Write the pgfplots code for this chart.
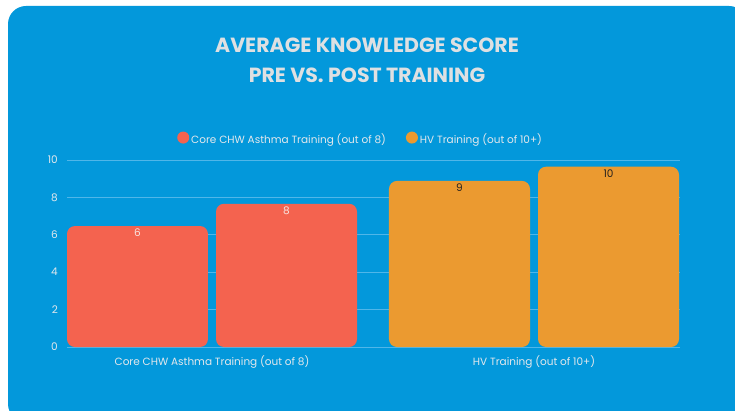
\documentclass[border=0pt]{standalone}
\usepackage{pgfplots}
\pgfplotsset{compat=1.18}
\usepackage{fontspec}
\setmainfont{Poppins}
\definecolor{bgblue}{RGB}{3,152,219}
\definecolor{corered}{RGB}{244,99,79}
\definecolor{hvorange}{RGB}{235,154,48}
\definecolor{labelgray}{RGB}{228,232,236}
\definecolor{titlegray}{RGB}{222,224,226}
\definecolor{gridblue}{RGB}{80,182,233}
\definecolor{darktext}{RGB}{40,34,30}
\definecolor{lighttext}{RGB}{248,228,224}
\begin{document}
\begin{tikzpicture}
\useasboundingbox (0pt,0pt) rectangle (735pt,410pt);
\begin{scope}
\clip (0pt,0pt) rectangle (735pt,410pt);
\fill[bgblue, rounded corners=18pt] (8pt,-12pt) rectangle (747pt,404pt);
\end{scope}
\node[text=titlegray, font=\fontsize{20.5}{24}\selectfont\bfseries] at (367pt,365pt) {AVERAGE KNOWLEDGE SCORE};
\node[text=titlegray, font=\fontsize{20.5}{24}\selectfont\bfseries] at (367pt,335pt) {PRE VS. POST TRAINING};
\begin{axis}[
  at={(67pt,63pt)}, anchor=south west,
  scale only axis, width=613pt, height=187pt,
  xmin=-0.4503, xmax=1.4534, ymin=0, ymax=10,
  y coord trafo/.code={\pgfmathparse{#1+1}},
  y coord inv trafo/.code={\pgfmathparse{#1-1}},
  ybar, bar width=0.4379, bar shift=0pt,
  axis x line*=bottom, axis y line*=left,
  axis line style={draw=none},
  major tick length=0pt,
  ymajorgrids, grid style={gridblue, line width=0.9pt},
  ytick={0,2,4,6,8,10}, yticklabels={0,2,4,6,8,10},
  xtick={0,1},
  xticklabels={Core CHW Asthma Training (out of 8), HV Training (out of 10+)},
  tick label style={text=labelgray, font=\fontsize{10.5}{12}\selectfont},
  yticklabel style={anchor=east, inner sep=0pt, xshift=-9pt},
  xticklabel style={anchor=north, inner sep=0pt, yshift=-8pt},
  /pgf/number format/assume math mode=true,
  legend style={at={(0.479,1.112)}, anchor=center, draw=none, fill=none,
    text=labelgray, font=\fontsize{10.5}{12}\selectfont, legend columns=2,
    /tikz/every even column/.append style={column sep=18pt}},
  point meta=rawy,
  nodes near coords={\pgfmathprintnumber[fixed,precision=0]{\pgfplotspointmeta}},
  nodes near coords style={anchor=center, yshift=-7pt, inner sep=0pt, font=\fontsize{10.5}{12}\selectfont},
]
\addplot[fill=corered, draw=none, rounded corners=8pt, bar shift=0pt,
  every node near coord/.append style={text=lighttext},
  legend image code/.code={\fill[corered] (-3pt,0.15em) circle (6pt);}]
  coordinates {(-0.2314,6.47) (0.2314,7.66)};
\addplot[fill=hvorange, draw=none, rounded corners=8pt, bar shift=0pt,
  every node near coord/.append style={text=darktext},
  legend image code/.code={\fill[hvorange] (-3pt,0.15em) circle (6pt);}]
  coordinates {(0.7686,8.88) (1.2314,9.64)};
\legend{Core CHW Asthma Training (out of 8), HV Training (out of 10+)}
\end{axis}
\end{tikzpicture}
\end{document}
